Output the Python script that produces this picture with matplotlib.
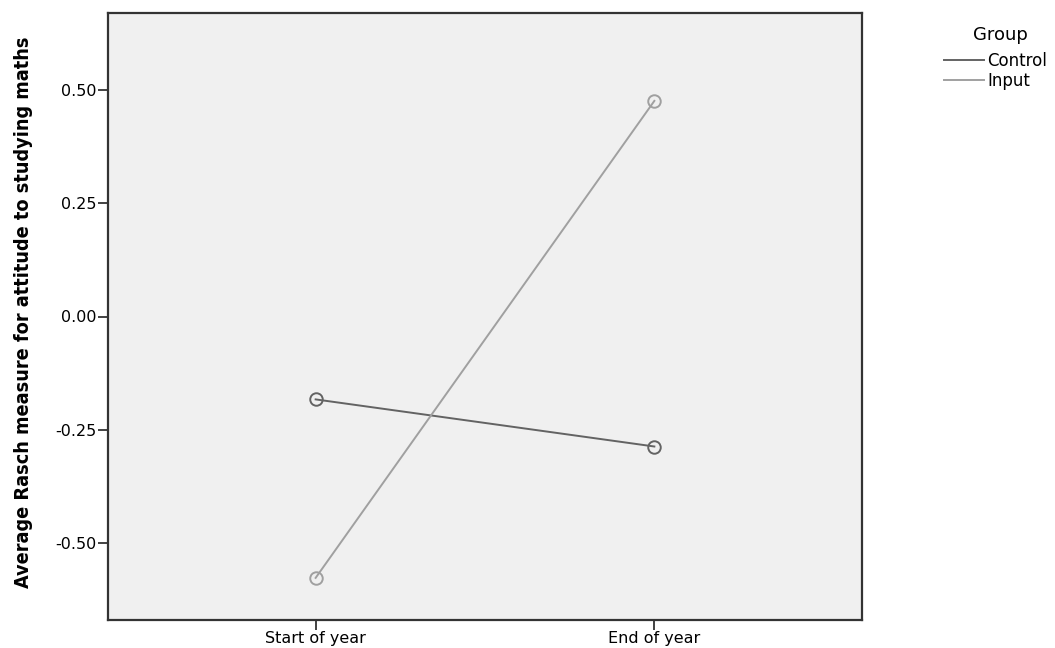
import matplotlib
matplotlib.use("Agg")
import matplotlib.pyplot as plt
from matplotlib.lines import Line2D

categories = ["Start of year", "End of year"]
groups = ["Control", "Input"]
control_values = [-0.183, -0.287]
input_values = [-0.577, 0.476]
yticks = [-0.50, -0.25, 0.00, 0.25, 0.50]

colors = {"Control": "#636363", "Input": "#a0a0a0"}

plt.rcParams['font.family'] = ['DejaVu Sans']

fig = plt.figure(figsize=(10.55, 6.48), dpi=100)
ax = fig.add_axes([108/1055, 1-620/648, (862-108)/1055, (620-13)/648])
ax.set_facecolor("#f0f0f0")

xs = list(range(len(categories)))
for g, vals in zip(groups, [control_values, input_values]):
    ax.plot(xs, vals, color=colors[g], lw=1.4, marker='o', markersize=9,
            markerfacecolor='none', markeredgecolor=colors[g], markeredgewidth=1.4)

ax.set_xlim(-0.613, 1.613)
ax.set_ylim(-0.67, 0.67)
ax.set_xticks(xs)
ax.set_xticklabels(categories, fontsize=11.5)
ax.set_yticks(yticks)
ax.set_yticklabels([f"{v:.2f}" for v in yticks], fontsize=11.5)
ax.tick_params(axis='both', direction='out', length=7, width=1.3, color='#333333', pad=1)
for s in ax.spines.values():
    s.set_color('#333333')
    s.set_linewidth(1.6)

lab = fig.text(24/1055, 1-312/648, "Average Rasch measure for attitude to studying maths",
               rotation=90, ha='center', va='center', fontsize=14, fontweight='bold',
               fontstretch='condensed', color='black')
# fit label length to ~555 px
fig.canvas.draw()
r = fig.canvas.get_renderer()
h = lab.get_window_extent(r).height
lab.set_fontsize(14 * 555 / h)

fig.text(1000/1055, 1-35/648, "Group", ha='center', va='center', fontsize=13)
handles = [Line2D([0], [0], color=colors[g], lw=1.4) for g in groups]
leg = fig.legend(handles, groups, loc='upper left', bbox_to_anchor=(944/1055, 1-52/648),
                 frameon=False, fontsize=12, borderpad=0, borderaxespad=0,
                 handlelength=2.4, handletextpad=0.2, labelspacing=0.1)

fig.savefig("out.png", dpi=100)
